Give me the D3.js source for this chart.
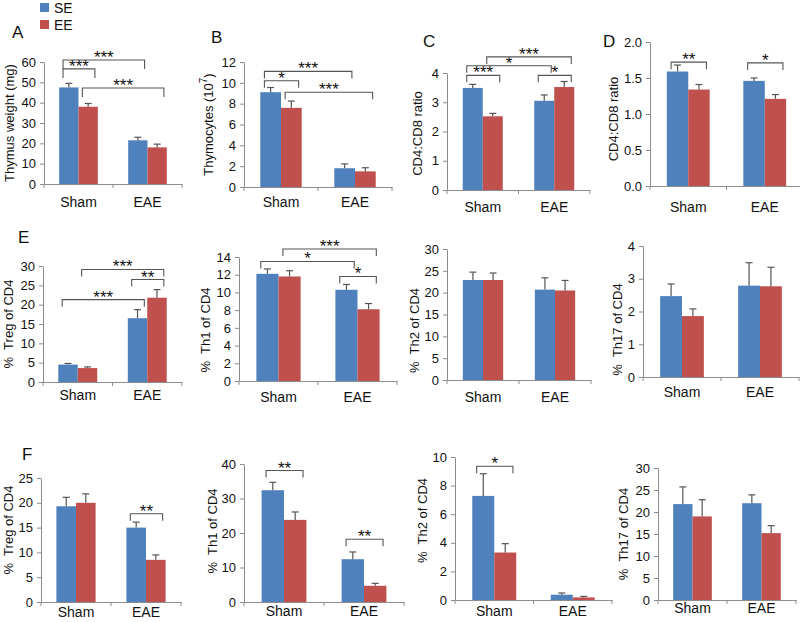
<!DOCTYPE html>
<html><head><meta charset="utf-8">
<script src="https://cdn.jsdelivr.net/npm/d3@7"></script>
<style>
body{margin:0;background:#fff}
svg text{font-family:"Liberation Sans",Arial,sans-serif;fill:#111}
</style>
</head><body>
<svg id="chart" width="800" height="622"></svg>
<script>
// ---------------- DATA ----------------
const categories = ["Sham", "EAE"];
const seriesNames = ["SE", "EE"];
const seriesColors = ["#4F81BD", "#C0504D"];

// one entry per panel: A, B, C, D, E-Treg, E-Th1, E-Th2, E-Th17, F-Treg, F-Th1, F-Th2, F-Th17
const panelLetters = ["A", "B", "C", "D", "E", "", "", "", "F", "", "", ""];
const axisTitles = ["Thymus weight (mg)", "Thymocytes (10^7)", "CD4:CD8 ratio", "CD4:CD8 ratio",
  "%  Treg of CD4", "%  Th1 of CD4", "%  Th2 of CD4", "%  Th17 of CD4",
  "%  Treg of CD4", "%  Th1 of CD4", "%  Th2 of CD4", "%  Th17 of CD4"];

const seMeans = [[47.5, 21.5], [9.1, 1.8], [3.49, 3.05], [1.59, 1.46],
  [4.5, 16.5], [12.1, 10.3], [22.9, 20.7], [2.47, 2.79],
  [19.3, 15.0], [32.4, 12.4], [7.28, 0.37], [21.8, 22.0]];
const seErrors = [[2.0, 1.5], [0.45, 0.42], [0.12, 0.2], [0.09, 0.04],
  [0.3, 2.2], [0.55, 0.6], [1.8, 2.7], [0.37, 0.7],
  [1.8, 1.1], [2.3, 2.1], [1.55, 0.12], [3.9, 1.9]];
const eeMeans = [[38.0, 18.0], [7.6, 1.5], [2.52, 3.52], [1.34, 1.21],
  [3.6, 21.8], [11.8, 8.1], [22.9, 20.5], [1.86, 2.77],
  [20.0, 8.5], [23.8, 4.7], [3.32, 0.18], [19.0, 15.2]];
const eeErrors = [[1.6, 1.6], [0.65, 0.35], [0.1, 0.19], [0.07, 0.06],
  [0.3, 2.1], [0.65, 0.65], [1.6, 2.3], [0.22, 0.58],
  [1.8, 1.0], [2.3, 0.7], [0.62, 0.07], [3.8, 1.7]];

const yTicks = [[0, 10, 20, 30, 40, 50, 60], [0, 2, 4, 6, 8, 10, 12], [0, 1, 2, 3, 4], [0, 0.5, 1, 1.5, 2],
  [0, 5, 10, 15, 20, 25, 30], [0, 2, 4, 6, 8, 10, 12, 14], [0, 5, 10, 15, 20, 25, 30], [0, 1, 2, 3, 4],
  [0, 5, 10, 15, 20, 25], [0, 10, 20, 30, 40], [0, 2, 4, 6, 8, 10], [0, 5, 10, 15, 20, 25, 30]];
const tickFormats = ["d", "d", "d", ".1f", "d", "d", "d", "d", "d", "d", "d", "d"];

// significance brackets: panel, [category, series] -> [category, series], level (data units), label
const brackets = [
  {p: 0, a: [0, 0], b: [1, 0], level: 61, label: "***"},
  {p: 0, a: [0, 0], b: [0, 1], level: 56.6, label: "***"},
  {p: 0, a: [0, 1], b: [1, 1], level: 47.2, label: "***"},
  {p: 1, a: [0, 0], b: [1, 0], level: 11.1, label: "***"},
  {p: 1, a: [0, 0], b: [0, 1], level: 10.2, label: "*"},
  {p: 1, a: [0, 1], b: [1, 1], level: 9.1, label: "***"},
  {p: 2, a: [0, 0], b: [0, 1], level: 3.92, label: "***"},
  {p: 2, a: [0, 0], b: [1, 0], level: 4.25, label: "*"},
  {p: 2, a: [0, 1], b: [1, 1], level: 4.55, label: "***"},
  {p: 2, a: [1, 0], b: [1, 1], level: 3.92, label: "*"},
  {p: 3, a: [0, 0], b: [0, 1], level: 1.72, label: "**"},
  {p: 3, a: [1, 0], b: [1, 1], level: 1.71, label: "*"},
  {p: 4, a: [0, 0], b: [1, 0], level: 21.3, label: "***"},
  {p: 4, a: [0, 1], b: [1, 1], level: 29.1, label: "***"},
  {p: 4, a: [1, 0], b: [1, 1], level: 26.5, label: "**"},
  {p: 5, a: [0, 0], b: [1, 0], level: 13.5, label: "*"},
  {p: 5, a: [0, 1], b: [1, 1], level: 14.9, label: "***"},
  {p: 5, a: [1, 0], b: [1, 1], level: 11.8, label: "*"},
  {p: 8, a: [1, 0], b: [1, 1], level: 17.8, label: "**"},
  {p: 9, a: [0, 0], b: [0, 1], level: 38.1, label: "**"},
  {p: 9, a: [1, 0], b: [1, 1], level: 18.2, label: "**"},
  {p: 10, a: [0, 0], b: [0, 1], level: 9.35, label: "*"}
];

// ---------------- LAYOUT ----------------
const layout = [
  {x0: 44, x1: 182, yTop: 62, y0: 184, tOff: 35, tDy: 0, lp: 13, lx: 12, ly: 38},
  {x0: 244, x1: 392, yTop: 62, y0: 187, tOff: 36, tDy: 0, lp: 10, lx: 211, ly: 43},
  {x0: 447, x1: 590, yTop: 73, y0: 190, tOff: 30, tDy: 2, lp: 12, lx: 423, ly: 47},
  {x0: 650, x1: 803, yTop: 42, y0: 186, tOff: 37, tDy: 5, lp: 16, lx: 603, ly: 47},
  {x0: 43, x1: 182, yTop: 266, y0: 382, tOff: 35, tDy: 0, lp: 8, lx: 18, ly: 243},
  {x0: 239, x1: 397, yTop: 257, y0: 381, tOff: 34, tDy: 11, lp: 11},
  {x0: 447, x1: 591, yTop: 249, y0: 380, tOff: 33, tDy: 16, lp: 12},
  {x0: 643, x1: 799, yTop: 246, y0: 377, tOff: 26, tDy: 18, lp: 10},
  {x0: 41, x1: 181, yTop: 478, y0: 602, tOff: 33, tDy: -10, lp: 5, lx: 22, ly: 460},
  {x0: 244, x1: 404, yTop: 464, y0: 602, tOff: 32, tDy: -2, lp: 4},
  {x0: 455, x1: 612, yTop: 457, y0: 600, tOff: 33, tDy: -8, lp: 6},
  {x0: 658, x1: 796, yTop: 468, y0: 600, tOff: 35, tDy: 0, lp: 3}
];
const axisColor = "#8c8c8c";
const errColor = "#555";

const svg = d3.select("#chart");

layout.forEach((L, i) => {
  const g = svg.append("g");
  const x = d3.scaleBand().domain(categories).range([L.x0, L.x1]);
  const bw0 = x.bandwidth();
  const xs = d3.scaleBand().domain(seriesNames).range([0.22 * bw0, 0.78 * bw0]);
  const yT = yTicks[i];
  const y = d3.scaleLinear().domain([0, yT[yT.length - 1]]).range([L.y0, L.yTop]);

  // y axis
  const ya = g.append("g").attr("transform", `translate(${L.x0},0)`)
    .call(d3.axisLeft(y).tickValues(yT).tickSizeInner(4).tickSizeOuter(0).tickPadding(4)
      .tickFormat(d3.format(tickFormats[i])));
  ya.select(".domain").attr("stroke", axisColor);
  ya.selectAll(".tick line").attr("stroke", axisColor);
  ya.selectAll(".tick text").attr("font-size", 13).attr("fill", "#111")
    .style("font-family", '"Liberation Sans", Arial, sans-serif');

  // x axis
  const xa = g.append("g").attr("transform", `translate(0,${L.y0})`)
    .call(d3.axisBottom(x).tickSize(0).tickPadding(L.lp));
  xa.select(".domain").attr("stroke", axisColor);
  xa.selectAll(".tick text").attr("font-size", 14).attr("fill", "#111")
    .style("font-family", '"Liberation Sans", Arial, sans-serif');
  const bounds = categories.map(c => x(c)).concat([x(categories[categories.length - 1]) + bw0]);
  g.selectAll("line.xt").data(bounds).join("line").attr("class", "xt")
    .attr("x1", d => d).attr("x2", d => d).attr("y1", L.y0).attr("y2", L.y0 + 4)
    .attr("stroke", axisColor);

  // bars
  const means = [seMeans[i], eeMeans[i]];
  const errs = [seErrors[i], eeErrors[i]];
  const rows = [];
  seriesNames.forEach((s, si) => categories.forEach((c, ci) => {
    rows.push({s, si, c, v: means[si][ci], e: errs[si][ci]});
  }));
  g.selectAll("rect.bar").data(rows).join("rect").attr("class", "bar")
    .attr("x", d => x(d.c) + xs(d.s)).attr("width", xs.bandwidth())
    .attr("y", d => y(d.v)).attr("height", d => y(0) - y(d.v))
    .attr("fill", d => seriesColors[d.si]);

  // error bars (upper only)
  const cap = 3.5;
  const eg = g.selectAll("g.err").data(rows).join("g").attr("class", "err")
    .attr("stroke", errColor).attr("stroke-width", 1.2);
  eg.append("line").attr("x1", d => x(d.c) + xs(d.s) + xs.bandwidth() / 2)
    .attr("x2", d => x(d.c) + xs(d.s) + xs.bandwidth() / 2)
    .attr("y1", d => y(d.v)).attr("y2", d => y(d.v + d.e));
  eg.append("line").attr("x1", d => x(d.c) + xs(d.s) + xs.bandwidth() / 2 - cap)
    .attr("x2", d => x(d.c) + xs(d.s) + xs.bandwidth() / 2 + cap)
    .attr("y1", d => y(d.v + d.e)).attr("y2", d => y(d.v + d.e));

  // brackets
  const bwid = xs.bandwidth();
  const drop = i === 0 ? 9 : 7;
  brackets.filter(b => b.p === i).forEach(b => {
    const xa1 = x(categories[b.a[0]]) + xs(seriesNames[b.a[1]]) + 0.2 * bwid;
    const xb1 = x(categories[b.b[0]]) + xs(seriesNames[b.b[1]]) + 0.85 * bwid;
    const yl = y(b.level);
    g.append("path")
      .attr("d", `M${xa1},${yl + drop}V${yl}H${xb1}V${yl + drop}`)
      .attr("fill", "none").attr("stroke", errColor).attr("stroke-width", 1.1);
    g.append("text").attr("x", (xa1 + xb1) / 2).attr("y", yl + 3)
      .attr("text-anchor", "middle").attr("font-size", 17).text(b.label);
  });

  // axis title
  const tx = L.x0 - L.tOff, ty = (L.y0 + L.yTop) / 2 + L.tDy;
  const t = g.append("text").attr("transform", `translate(${tx},${ty}) rotate(-90)`)
    .attr("text-anchor", "middle").attr("dominant-baseline", "central")
    .attr("font-size", 13).style("white-space", "pre");
  const title = axisTitles[i];
  if (title.includes("^")) {
    const [base, rest] = title.split("^");
    t.append("tspan").text(base);
    t.append("tspan").attr("dy", -5).attr("font-size", 10).text(rest.replace(")", ""));
    t.append("tspan").attr("dy", 5).text(")");
  } else {
    t.text(title);
  }

  // panel letter
  if (panelLetters[i]) {
    svg.append("text").attr("x", L.lx).attr("y", L.ly).attr("font-size", 17).text(panelLetters[i]);
  }
});

// legend
const lg = svg.append("g");
seriesNames.forEach((s, i) => {
  lg.append("rect").attr("x", 40).attr("y", 3 + i * 17).attr("width", 9).attr("height", 9)
    .attr("fill", seriesColors[i]);
  lg.append("text").attr("x", 54).attr("y", 13 + i * 17).attr("font-size", 14).text(s);
});
</script>
</body></html>
